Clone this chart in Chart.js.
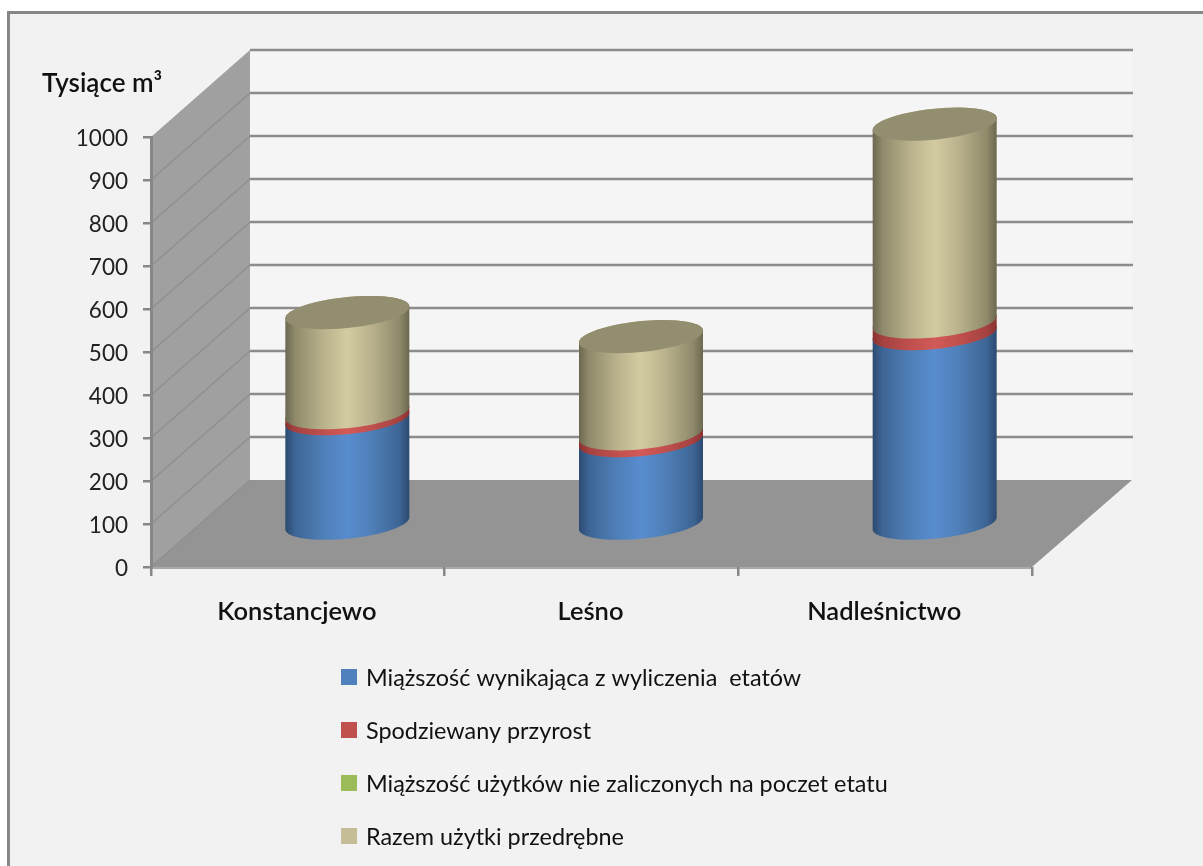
<!DOCTYPE html>
<html><head><meta charset="utf-8">
<style>html,body{margin:0;padding:0;background:#fff}canvas{display:block}</style>
<script src="https://cdn.jsdelivr.net/npm/chart.js@4/dist/chart.umd.min.js"></script>
</head><body><div style="width:1203px;height:866px"><canvas id="c" width="1203" height="866"></canvas></div>
<script>
const categories = ['Konstancjewo', 'Leśno', 'Nadleśnictwo'];
const etaty = [246, 195, 444];
const przyrost = [14, 16, 27];
const nieZaliczone = [0, 0, 0];
const przedrebne = [233, 226, 460];
const seriesNames = ['Miąższość wynikająca z wyliczenia  etatów', 'Spodziewany przyrost', 'Miąższość użytków nie zaliczonych na poczet etatu', 'Razem użytki przedrębne'];
const swatches = ['#4f81bd', '#c0504d', '#9bbb59', '#c4bd97'];
const axisTitle = 'Tysiące m³';

const grads = [
  ['#2c4a70', '#3d6595', '#4f7fb7', '#588ccf', '#4f7fb7', '#3d6595', '#2c4a70'],
  ['#8a3230', '#a54240', '#bf4f4d', '#d25a58', '#bf4f4d', '#a54240', '#8a3230'],
  ['#647a36', '#7c9a46', '#8fb052', '#a6c860', '#8fb052', '#7c9a46', '#647a36'],
  ['#6c6850', '#8f8a6a', '#b8b18c', '#d3cba0', '#b8b18c', '#8f8a6a', '#6c6850']
];
const capColor = '#938e6f';
const GREY = '#878787';
const D = {wallDx: 99, wallDy: -87, barDx: 49.5, barDy: -42.5, skew: 6, minor: 15.5};

function rimPts(cx, cy, a, from, to) {
  const pts = [];
  for (let i = 0; i <= 48; i++) {
    const t = from + (to - from) * i / 48;
    pts.push([cx + a * Math.cos(t), cy - D.skew * Math.cos(t) + D.minor * Math.sin(t)]);
  }
  return pts;
}
const scene = {
  id: 'scene',
  beforeDraw(chart) {
    const {ctx, chartArea: A, scales: {y}} = chart;
    ctx.save();
    ctx.fillStyle = '#fff'; ctx.fillRect(0, 0, 1203, 866);
    ctx.fillStyle = '#f2f2f2'; ctx.fillRect(8, 12, 1195, 854);
    ctx.strokeStyle = GREY; ctx.lineWidth = 3;
    ctx.beginPath(); ctx.moveTo(8.5, 866); ctx.lineTo(8.5, 12.5); ctx.lineTo(1203, 12.5); ctx.stroke();
    const bx = A.left + D.wallDx, bxr = A.right + 100, dy = D.wallDy;
    ctx.fillStyle = '#f5f5f5'; ctx.fillRect(bx, A.top + dy, bxr - bx, A.bottom - A.top);
    ctx.fillStyle = '#a0a0a0';
    ctx.beginPath(); ctx.moveTo(A.left, A.top); ctx.lineTo(bx, A.top + dy); ctx.lineTo(bx, A.bottom + dy); ctx.lineTo(A.left, A.bottom); ctx.closePath(); ctx.fill();
    ctx.fillStyle = '#949494';
    ctx.beginPath(); ctx.moveTo(A.left, A.bottom); ctx.lineTo(A.right, A.bottom); ctx.lineTo(bxr, A.bottom + dy); ctx.lineTo(bx, A.bottom + dy); ctx.closePath(); ctx.fill();
    y.ticks.forEach(t => {
      const py = y.getPixelForValue(t.value);
      if (t.value > 0) {
        ctx.strokeStyle = '#8c8c8c'; ctx.lineWidth = 2.4;
        ctx.beginPath(); ctx.moveTo(bx, py + dy); ctx.lineTo(bxr + 1, py + dy); ctx.stroke();
      }
      if (t.value < 1000) {
        ctx.strokeStyle = '#8e8e8e'; ctx.lineWidth = 1.2;
        ctx.beginPath(); ctx.moveTo(A.left, py); ctx.lineTo(bx, py + dy); ctx.stroke();
      }
    });
    ctx.fillStyle = '#a9a9a9'; ctx.fillRect(A.left, A.bottom, A.right - A.left, 2);
    ctx.fillStyle = '#111'; ctx.font = '600 26px Lato'; ctx.textBaseline = 'middle'; ctx.textAlign = 'left';
    ctx.fillText(axisTitle, 42, 84);
    ctx.font = '23.4px Lato';
    const rows = [677, 730, 783, 836];
    seriesNames.forEach((n, i) => {
      ctx.fillStyle = swatches[i]; ctx.fillRect(341, rows[i] - 8, 16, 16);
      ctx.fillStyle = '#111'; ctx.fillText(n, 366, rows[i] + 1);
    });
    ctx.restore();
  },
  afterDatasetsDraw(chart) {
    const {ctx} = chart;
    ctx.save();
    ctx.translate(D.barDx, D.barDy);
    categories.forEach((_, k) => {
      let top = null;
      chart.data.datasets.forEach((ds, di) => {
        if (!ds.data[k]) return;
        const el = chart.getDatasetMeta(di).data[k];
        const a = el.width / 2, x = el.x;
        const g = ctx.createLinearGradient(x - a, 0, x + a, 0);
        [0, .08, .3, .5, .7, .92, 1].forEach((s, j) => g.addColorStop(s, grads[di][j]));
        const low = rimPts(x, el.base, a, Math.PI, 0);
        const up = rimPts(x, el.y, a, 0, -Math.PI);
        ctx.fillStyle = g;
        ctx.beginPath();
        low.concat(up).forEach((p, i) => i ? ctx.lineTo(p[0], p[1]) : ctx.moveTo(p[0], p[1]));
        ctx.closePath(); ctx.fill();
        top = {x, y: el.y, a};
      });
      if (top) {
        ctx.fillStyle = capColor;
        ctx.beginPath();
        rimPts(top.x, top.y, top.a, 0, Math.PI * 2).forEach((p, i) => i ? ctx.lineTo(p[0], p[1]) : ctx.moveTo(p[0], p[1]));
        ctx.closePath(); ctx.fill();
      }
    });
    ctx.restore();
  }
};
new Chart(document.getElementById('c'), {
  type: 'bar',
  plugins: [scene],
  data: {
    labels: categories,
    datasets: [etaty, przyrost, nieZaliczone, przedrebne].map((d, i) => ({
      label: seriesNames[i], data: d, backgroundColor: 'rgba(0,0,0,0)', borderWidth: 0, barThickness: 124, clip: false
    }))
  },
  options: {
    responsive: false, animation: false,
    layout: {padding: {left: 0, right: 171, top: 137, bottom: 0}},
    plugins: {legend: {display: false}, title: {display: false}, tooltip: {enabled: false}},
    scales: {
      x: {
        stacked: true,
        afterFit(s) { s.height = 299; },
        border: {color: GREY, width: 0},
        grid: {offset: true, drawOnChartArea: false, color: GREY, lineWidth: 2.5, tickLength: 9},
        ticks: {color: '#111', padding: 20, labelOffset: -1, font: {family: 'Lato', size: 25.5, weight: '600'}}
      },
      y: {
        stacked: true, min: 0, max: 1000,
        afterFit(s) { s.width = 151; },
        border: {color: GREY, width: 3},
        grid: {drawOnChartArea: false, color: GREY, lineWidth: 2.5, tickLength: 8},
        ticks: {stepSize: 100, color: '#222', padding: 15, labelOffset: 2, font: {family: 'Lato', size: 22.5}, callback: v => String(v)}
      }
    }
  }
});
</script></body></html>
